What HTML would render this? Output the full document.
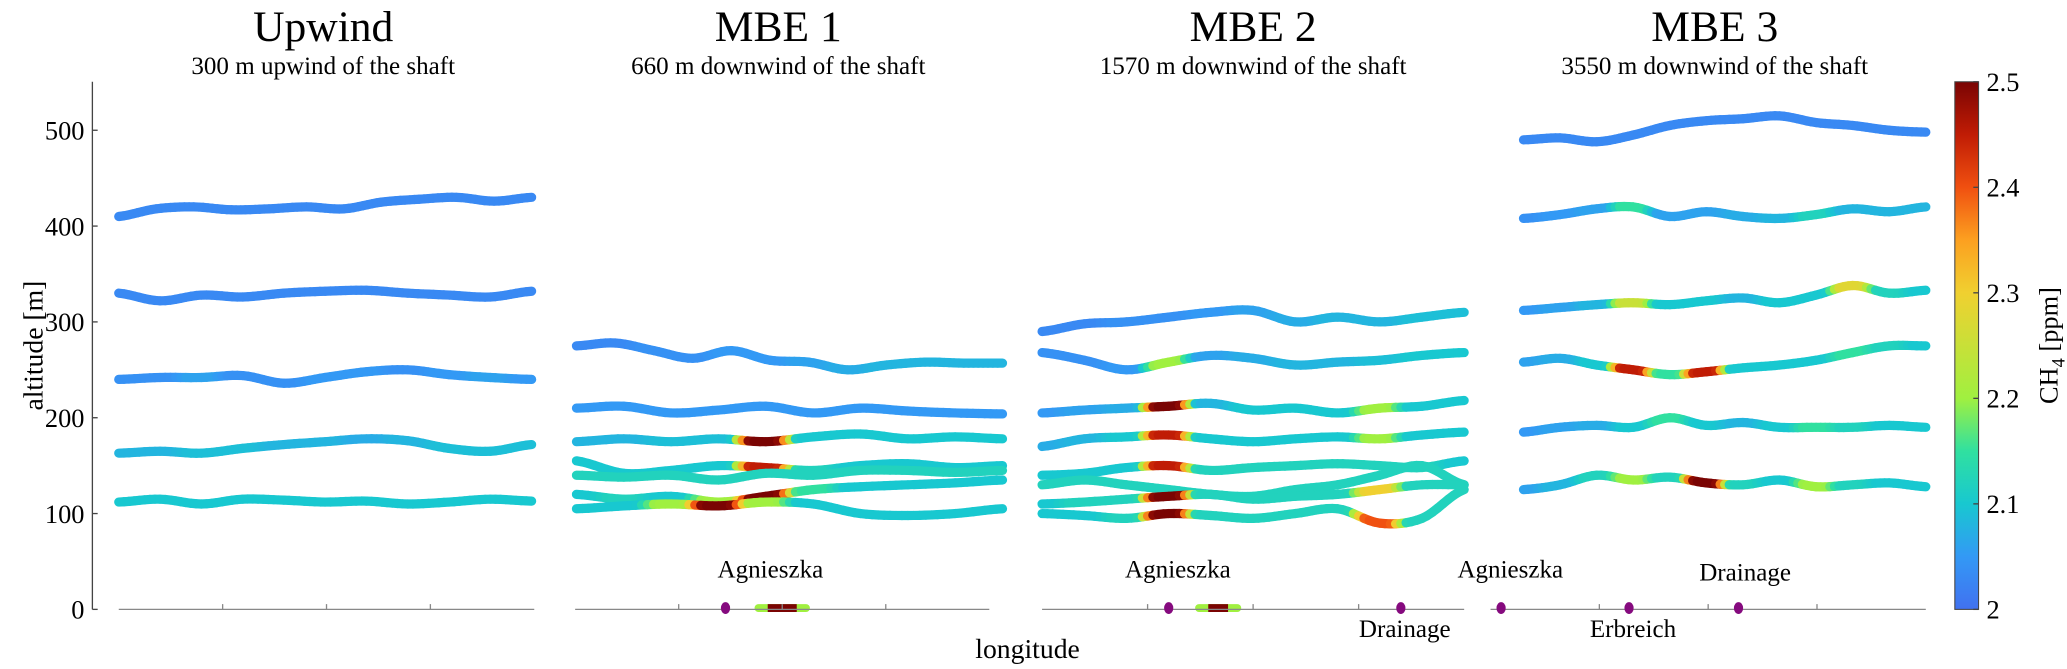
<!DOCTYPE html>
<html><head><meta charset="utf-8"><style>
html,body{margin:0;padding:0;background:#fff}
svg{display:block;font-family:"Liberation Serif",serif}
</style></head><body>
<svg id="chart" width="2067" height="669" viewBox="0 0 1567 507.2" xmlns="http://www.w3.org/2000/svg">
<defs>
<linearGradient id="cbar" x1="0" y1="1" x2="0" y2="0">
<stop offset="0" stop-color="#4171f0"/><stop offset="0.1" stop-color="#3399f5"/><stop offset="0.2" stop-color="#18c8d0"/><stop offset="0.3" stop-color="#30e0a0"/><stop offset="0.4" stop-color="#a0f040"/><stop offset="0.6" stop-color="#f0d030"/><stop offset="0.7" stop-color="#fca020"/><stop offset="0.8" stop-color="#f05010"/><stop offset="0.9" stop-color="#c01c05"/><stop offset="1" stop-color="#7a0403"/>
</linearGradient>
</defs>
<g id="tracks"></g>
<g id="axes"></g>
</svg>
<script>
const yTicks=[0,100,200,300,400,500];
const cTicks=[2,2.1,2.2,2.3,2.4,2.5];
const panelTitles=["Upwind","MBE 1","MBE 2","MBE 3"];
const panelSubtitles=["300 m upwind of the shaft","660 m downwind of the shaft","1570 m downwind of the shaft","3550 m downwind of the shaft"];
const upAlt=[[410,418,420,417,418,420,418,425,428,430,426,430],[330,322,328,326,330,332,333,330,328,326,332],[240,242,242,244,236,242,248,250,245,242,240],[163,165,163,168,172,175,178,176,168,165,172],[112,115,110,115,114,112,113,110,112,115,113]];
const upCh4=[[2.03],[2.03],[2.04,2.04,2.06,2.04,2.04,2.05,2.05,2.04,2.05,2.06,2.05],[2.08,2.08,2.09,2.09,2.08,2.08,2.07,2.08,2.09,2.09,2.09],[2.1]];
const m1Alt=[[275,278,270,262,270,260,258,250,255,258,257,257],[210,212,205,208,212,205,210,207,205,204],[175,178,175,178,175,180,183,178,180,178],[155,142,145,150,148,145,150,152,148,150],[140,138,140,135,142,140,145,145,143,145],[120,115,118,112,118,125,128,130,132,135],[105,108,110,108,112,110,100,98,100,105]];
const m1Ch4=[[2.03,2.03,2.04,2.04,2.05,2.05,2.06,2.07,2.08,2.08,2.08,2.08],[2.05],[2.08,2.08,2.09,2.09,2.5,2.1,2.1,2.1,2.1,2.1],[2.1,2.1,2.1,2.1,2.45,2.12,2.1,2.1,2.1,2.1],[2.12],[2.1,2.12,2.1,2.2,2.5,2.15,2.1,2.1,2.1,2.1],[2.1,2.1,2.2,2.5,2.2,2.1,2.1,2.1,2.1,2.1]];
const m2Alt=[[290,298,300,305,310,312,300,305,300,305,310],[268,260,250,258,265,262,255,258,260,265,268],[205,208,210,212,215,208,210,205,210,212,218],[170,178,180,182,178,175,178,180,178,182,185],[140,142,148,150,145,148,150,152,150,148,155],[130,135,130,125,120,118,125,130,140,150,130],[110,112,115,118,120,115,118,120,125,130,130],[100,98,95,100,98,95,100,105,90,95,125]];
const m2Ch4=[[2.03,2.03,2.04,2.04,2.05,2.06,2.07,2.08,2.08,2.09,2.09],[2.04,2.04,2.05,2.2,2.06,2.07,2.08,2.08,2.09,2.1,2.1],[2.05,2.06,2.07,2.5,2.08,2.1,2.1,2.1,2.2,2.1,2.1],[2.07,2.08,2.1,2.45,2.1,2.1,2.1,2.1,2.2,2.1,2.1],[2.1,2.1,2.1,2.45,2.12,2.12,2.12,2.12,2.12,2.12,2.1],[2.12],[2.1,2.12,2.12,2.5,2.12,2.12,2.12,2.12,2.3,2.12,2.12],[2.1,2.1,2.12,2.5,2.12,2.12,2.12,2.12,2.4,2.12,2.12]];
const m3Alt=[[490,492,488,495,505,510,512,515,508,505,500,498],[408,412,418,420,410,415,410,408,412,418,415,420],[312,315,318,320,318,322,325,320,328,338,330,333],[258,262,255,250,245,248,252,255,260,268,275,275],[185,190,192,190,200,192,195,190,190,190,192,190],[125,130,140,135,138,132,130,135,128,130,132,128]];
const m3Ch4=[[2.03],[2.04,2.05,2.06,2.15,2.06,2.06,2.07,2.08,2.12,2.08,2.08,2.08],[2.05,2.06,2.08,2.25,2.1,2.1,2.08,2.1,2.1,2.28,2.12,2.1],[2.06,2.07,2.1,2.45,2.15,2.45,2.1,2.1,2.1,2.15,2.12,2.1],[2.05,2.06,2.07,2.1,2.15,2.1,2.08,2.1,2.15,2.12,2.1,2.1],[2.06,2.08,2.12,2.2,2.12,2.5,2.12,2.1,2.2,2.12,2.1,2.1]];
const panelAlts=[upAlt,m1Alt,m2Alt,m3Alt];
const panelCh4=[upCh4,m1Ch4,m2Ch4,m3Ch4];
const sourceLabels=[["Agnieszka",584,438],["Agnieszka",893,438],["Drainage",1065,483],["Agnieszka",1145,438],["Erbreich",1238,483],["Drainage",1323,440]];
const sourceX=[550,886,1062,1138,1235,1318];

const NS="http://www.w3.org/2000/svg";
const trackX=[[90,403],[437,760],[790,1110],[1155,1460]];
const axisX=[[90,405],[436,750],[790,1110],[1130,1460]];
const titleX=[245,590,950,1300];
function yScale(v){return 462-v*0.7265;}
function cScale(v){return 462-(v-2)/0.5*400;}
const stops=[[2,[65,113,240]],[2.05,[51,153,245]],[2.1,[24,200,208]],[2.15,[48,224,160]],[2.2,[160,240,64]],[2.3,[240,208,48]],[2.35,[252,160,32]],[2.4,[240,80,16]],[2.45,[192,28,5]],[2.5,[122,4,3]]];
function col(v){v=Math.max(2,Math.min(2.5,v));for(let i=1;i<stops.length;i++){if(v<=stops[i][0]){const a=stops[i-1],b=stops[i],t=(v-a[0])/(b[0]-a[0]);const c=a[1].map((x,k)=>Math.round(x+(b[1][k]-x)*t));return `rgb(${c})`;}}return "rgb(122,4,3)";}
function mk(tag,attrs,parent,text){const e=document.createElementNS(NS,tag);for(const k in attrs)e.setAttribute(k,attrs[k]);if(text!==undefined)e.textContent=text;parent.appendChild(e);return e;}
function cr(arr,s){const n=arr.length;const i=Math.min(n-2,Math.floor(s));const t=s-i;const p0=arr[Math.max(0,i-1)],p1=arr[i],p2=arr[i+1],p3=arr[Math.min(n-1,i+2)];
return 0.5*((2*p1)+(-p0+p2)*t+(2*p0-5*p1+4*p2-p3)*t*t+(-p0+3*p1-3*p2+p3)*t*t*t);}
function chAt(ch,s){if(ch.length===1)return ch[0];const r=Math.round(s);if(Math.abs(s-r)<0.3)return ch[r];const i=Math.floor(s),t=(s-i-0.3)/0.4;return ch[i]+(ch[i+1]-ch[i])*t;}
const tracks=document.getElementById('tracks');
const axes=document.getElementById('axes');
panelAlts.forEach((alts,p)=>{
  const [x0,x1]=trackX[p];
  alts.forEach((alt,t)=>{
    const ch=panelCh4[p][t];
    const n=alt.length;
    const sub=8, N=(n-1)*sub;
    for(let k=0;k<N;k++){
      const s0=k/sub, s1=(k+1)/sub;
      const v=chAt(ch,(s0+s1)/2);
      const l=mk('line',{x1:x0+(x1-x0)*s0/(n-1),y1:yScale(cr(alt,s0)),x2:x0+(x1-x0)*s1/(n-1),y2:yScale(cr(alt,s1)),stroke:col(v),'stroke-width':7,'stroke-linecap':'round'},tracks);
      
      
    }
  });
  const [a0,a1]=axisX[p];
  const ax=mk('line',{x1:a0,y1:462,x2:a1,y2:462,stroke:'#888','stroke-width':1},axes);
  
  
  for(let k=1;k<4;k++){const tx=a0+(a1-a0)*k/4;const tk=mk('line',{x1:tx,y1:462,x2:tx,y2:458,stroke:'#888'},axes);}
  const ti=mk('text',{x:titleX[p],y:31,'font-size':33,'text-anchor':'middle'},axes,panelTitles[p]);
  
  
  const st=mk('text',{x:titleX[p],y:56,'font-size':19,'text-anchor':'middle'},axes,panelSubtitles[p]);
  
  
});
[[578,608],[912,935]].forEach(s=>{
  const g=mk('line',{x1:s[0]-3,y1:461,x2:s[1]+3,y2:461,stroke:'#a0f040','stroke-width':6,'stroke-linecap':'round'},tracks);
  
  const r=mk('line',{x1:s[0]+4,y1:461,x2:s[1]-4,y2:461,stroke:'#7a0403','stroke-width':6},tracks);
  
});
sourceX.forEach(x=>{const e=mk('ellipse',{cx:x,cy:461,rx:3.5,ry:4.5,fill:'#850a7e'},axes);});
sourceLabels.forEach(s=>{const e=mk('text',{x:s[1],y:s[2],'font-size':19,'text-anchor':'middle'},axes,s[0]);});
const ya=mk('line',{x1:70,y1:62,x2:70,y2:462,stroke:'#444'},axes);
yTicks.forEach(v=>{const y=yScale(v);const t=mk('line',{x1:70,y1:y,x2:74,y2:y,stroke:'#444'},axes);
const l=mk('text',{x:64,y:y+7,'font-size':20,'text-anchor':'end'},axes,String(v));});
const yl=mk('text',{x:0,y:0,'font-size':21,'text-anchor':'middle',transform:'translate(32,262) rotate(-90)'},axes,'altitude [m]');
const xl=mk('text',{x:779,y:499,'font-size':21,'text-anchor':'middle'},axes,'longitude');
const cb=mk('rect',{x:1482,y:62,width:18,height:400,fill:'url(#cbar)',stroke:'#444','stroke-width':0.8},axes);
cTicks.forEach(v=>{const y=cScale(v);const t=mk('line',{x1:1496,y1:y,x2:1500,y2:y,stroke:'#444'},axes);
const l=mk('text',{x:1506,y:y+7,'font-size':20},axes,String(v));});
const cl=mk('text',{x:0,y:0,'font-size':20,'text-anchor':'middle',transform:'translate(1560,262) rotate(-90)'},axes,'');

mk('tspan',{},cl,'CH');mk('tspan',{dy:5,'font-size':14},cl,'4');mk('tspan',{dy:-5},cl,' [ppm]');
</script>
</body></html>
